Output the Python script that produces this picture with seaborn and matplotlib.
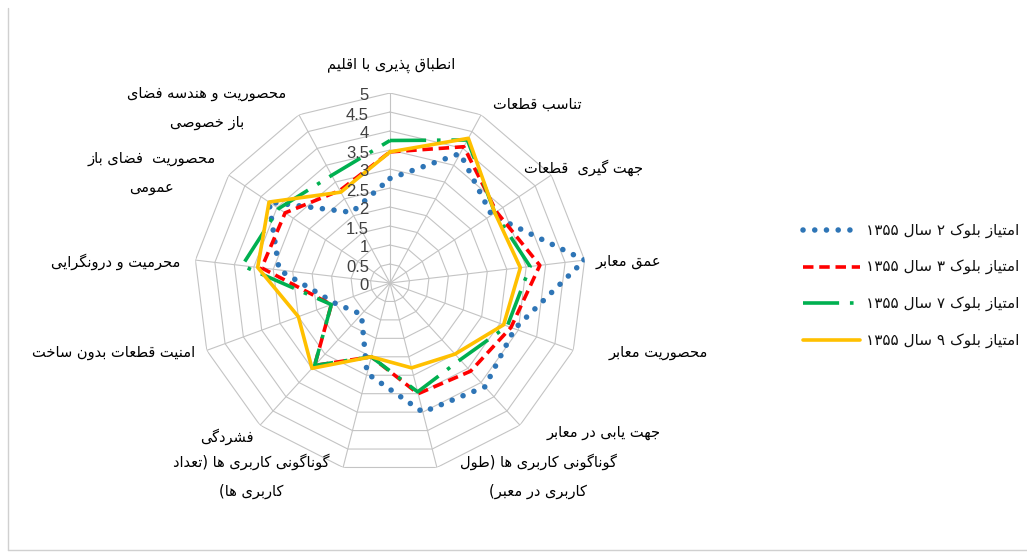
import re
import numpy as np
import pandas as pd
import seaborn as sns
import matplotlib
matplotlib.use("Agg")
import matplotlib.pyplot as plt
from matplotlib.lines import Line2D

# -------------------------------
# Data
# -------------------------------
categories = [
    "انطباق پذیری با اقلیم",
    "تناسب قطعات",
    "جهت گیری  قطعات",
    "عمق معابر",
    "محصوریت معابر",
    "جهت یابی در معابر",
    "گوناگونی کاربری ها (طول\nکاربری در معبر)",
    "گوناگونی کاربری ها (تعداد\nکاربری ها)",
    "فشردگی",
    "امنیت قطعات بدون ساخت",
    "محرمیت و درونگرایی",
    "محصوریت  فضای باز\nعمومی",
    "محصوریت و هندسه فضای\nباز خصوصی",
]
block2 = [2.75, 3.85, 3.15, 5.0, 3.4, 3.65, 3.5, 2.45, 1.1, 1.5, 2.85, 3.75, 2.1]
block3 = [3.45, 4.05, 3.3, 3.85, 3.3, 3.1, 3.0, 2.0, 2.9, 1.6, 3.3, 3.25, 2.75]
block7 = [3.75, 4.25, 3.25, 3.6, 3.2, 2.7, 2.95, 2.0, 2.9, 1.6, 3.8, 3.45, 3.2]
block9 = [3.45, 4.3, 3.25, 3.35, 3.1, 2.5, 2.3, 2.0, 3.0, 2.5, 3.4, 3.75, 2.7]
series_names = [
    "امتیاز بلوک ۲ سال ۱۳۵۵",
    "امتیاز بلوک ۳ سال ۱۳۵۵",
    "امتیاز بلوک ۷ سال ۱۳۵۵",
    "امتیاز بلوک ۹ سال ۱۳۵۵",
]
ring_values = [0, 0.5, 1, 1.5, 2, 2.5, 3, 3.5, 4, 4.5, 5]

# -------------------------------
# Minimal Persian shaping (matplotlib has no text shaping / bidi)
# -------------------------------
FORMS = {
    "ا": (0xFE8D, 0xFE8E, None, None), "ب": (0xFE8F, 0xFE90, 0xFE91, 0xFE92),
    "پ": (0xFB56, 0xFB57, 0xFB58, 0xFB59), "ت": (0xFE95, 0xFE96, 0xFE97, 0xFE98),
    "ج": (0xFE9D, 0xFE9E, 0xFE9F, 0xFEA0), "ح": (0xFEA1, 0xFEA2, 0xFEA3, 0xFEA4),
    "خ": (0xFEA5, 0xFEA6, 0xFEA7, 0xFEA8), "د": (0xFEA9, 0xFEAA, None, None),
    "ذ": (0xFEAB, 0xFEAC, None, None), "ر": (0xFEAD, 0xFEAE, None, None),
    "ز": (0xFEAF, 0xFEB0, None, None), "س": (0xFEB1, 0xFEB2, 0xFEB3, 0xFEB4),
    "ش": (0xFEB5, 0xFEB6, 0xFEB7, 0xFEB8), "ص": (0xFEB9, 0xFEBA, 0xFEBB, 0xFEBC),
    "ض": (0xFEBD, 0xFEBE, 0xFEBF, 0xFEC0), "ط": (0xFEC1, 0xFEC2, 0xFEC3, 0xFEC4),
    "ع": (0xFEC9, 0xFECA, 0xFECB, 0xFECC), "ف": (0xFED1, 0xFED2, 0xFED3, 0xFED4),
    "ق": (0xFED5, 0xFED6, 0xFED7, 0xFED8), "ک": (0xFB8E, 0xFB8F, 0xFB90, 0xFB91),
    "گ": (0xFB92, 0xFB93, 0xFB94, 0xFB95), "ل": (0xFEDD, 0xFEDE, 0xFEDF, 0xFEE0),
    "م": (0xFEE1, 0xFEE2, 0xFEE3, 0xFEE4), "ن": (0xFEE5, 0xFEE6, 0xFEE7, 0xFEE8),
    "ه": (0xFEE9, 0xFEEA, 0xFEEB, 0xFEEC), "و": (0xFEED, 0xFEEE, None, None),
    "ی": (0xFBFC, 0xFBFD, 0xFBFE, 0xFBFF),
}
DUAL = {c for c, f in FORMS.items() if f[2] is not None}


def shape_line(s):
    out = []
    for i, c in enumerate(s):
        if c not in FORMS:
            out.append(c)
            continue
        prev = s[i - 1] if i > 0 else ""
        nxt = s[i + 1] if i + 1 < len(s) else ""
        jp = prev in DUAL
        jn = c in DUAL and nxt in FORMS
        iso, fin, ini, med = FORMS[c]
        code = med if (jp and jn) else fin if jp else ini if jn else iso
        out.append(chr(code))
    vis = "".join(out)[::-1]
    vis = re.sub("[0-9۰-۹.]+", lambda m: m.group(0)[::-1], vis)
    return vis.translate(str.maketrans("()", ")("))


def fa(s):
    return "\n".join(shape_line(line) for line in s.split("\n"))


# -------------------------------
# Style
# -------------------------------
sns.set_theme(style="white")
plt.rcParams["font.family"] = ["DejaVu Sans"]

W, H = 1027, 557
fig = plt.figure(figsize=(W / 100, H / 100), dpi=100)
fig.patch.set_facecolor("white")

# polar area: centre (390, 283) px, radius ~196 px wide, ~190 px tall
ax = fig.add_axes([194 / W, 1 - 473 / H, 392 / W, 380 / H], projection="polar")
ax.set_aspect("auto")
ax.set_theta_zero_location("N")
ax.set_theta_direction(-1)

n = len(categories)
theta = np.linspace(0, 2 * np.pi, n, endpoint=False)
theta_closed = np.append(theta, 2 * np.pi)

# polygon grid
grid_col = "#c4c4c4"
for r in ring_values[1:]:
    ax.plot(theta_closed, [r] * (n + 1), color=grid_col, lw=0.8, zorder=1)
for t in theta:
    ax.plot([t, t], [0, 5], color=grid_col, lw=0.8, zorder=1)

# -------------------------------
# Series
# -------------------------------
styles = [
    dict(color="#2E75B6", linewidth=4.0, linestyle=(0, (0.01, 2.1)), dash_capstyle="round"),
    dict(color="#FF0000", linewidth=2.6, linestyle=(0, (2.9, 1.6)), dash_capstyle="butt"),
    dict(color="#00B050", linewidth=2.6, linestyle=(0, (10, 3, 1, 3)), dash_capstyle="butt"),
    dict(color="#FFC000", linewidth=2.6, linestyle="-"),
]
for vals, st in zip([block2, block3, block7, block9], styles):
    df = pd.DataFrame({"theta": theta_closed, "value": vals + vals[:1]})
    sns.lineplot(data=df, x="theta", y="value", sort=False, estimator=None,
                 ax=ax, zorder=3, **st)

ax.set_ylim(0, 5)
ax.set_xticks([])
ax.set_yticks([])
ax.set_xlabel("")
ax.set_ylabel("")
ax.grid(False)
ax.spines["polar"].set_visible(False)
ax.set_facecolor("none")

# ring value labels along the top axis
for r in ring_values:
    ax.annotate(f"{r:g}", xy=(0, r), xytext=(-21, -3), textcoords="offset pixels",
                ha="right", va="center", fontsize=12, color="#404040",
                family=["Liberation Sans", "DejaVu Sans"], zorder=4)

# category labels (pixel centres of the text blocks)
label_px = [
    (391, 65), (537, 104), (584, 168), (628, 262), (658, 352), (604, 433),
    (538, 476), (251, 476), (227, 437), (114, 352), (116, 262), (152, 173),
    (207, 108),
]
for txt, (x, y) in zip(categories, label_px):
    fig.text(x / W, 1 - y / H, fa(txt), ha="center", va="center",
             fontsize=10.5, color="black", linespacing=2.1)

# legend drawn by hand (sample on the left, RTL text on the right)
legend_y = [230, 266.7, 303.3, 340]
for name, st, y in zip(series_names, styles, legend_y):
    fig.add_artist(Line2D([803 / W, 860 / W], [1 - y / H] * 2, **st))
    fig.text(866 / W, 1 - y / H, fa(name), ha="left", va="center",
             fontsize=11, color="#111111")

# chart area frame
frame = dict(color="#d0d0d0", lw=1.0)
fig.add_artist(Line2D([8 / W, 8 / W], [1 - 550 / H, 1 - 8 / H], **frame))
fig.add_artist(Line2D([8 / W, 1.0], [1 - 550 / H] * 2, **frame))

fig.savefig("out.png", dpi=100, facecolor="white")
